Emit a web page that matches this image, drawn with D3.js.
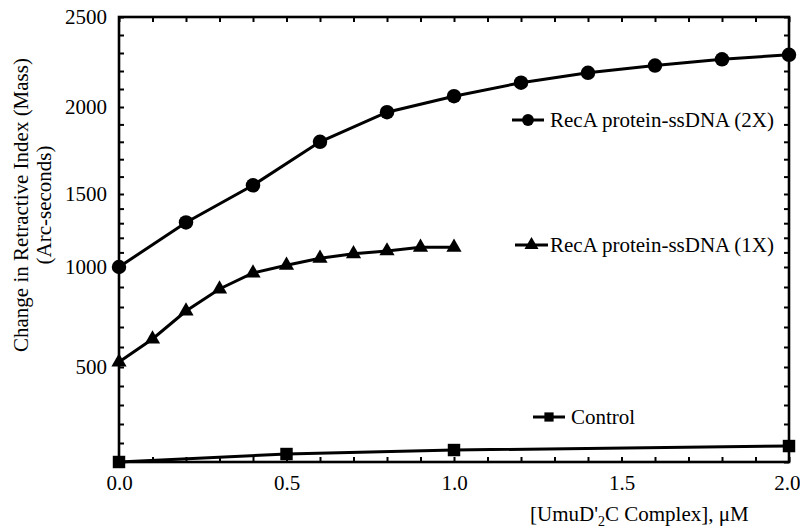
<!DOCTYPE html>
<html>
<head>
<meta charset="utf-8">
<script src="https://cdn.jsdelivr.net/npm/d3@7"></script>
<style>
	body { margin: 0; background: #fff; }
	text { font-family: 'Liberation Serif', 'Times New Roman', serif; fill: #000; }
</style>
</head>
<body>
<div id="chart"></div>
<script>
// concentrations, uM
var dose_2x = [0, 0.2, 0.4, 0.6, 0.8, 1.0, 1.2, 1.4, 1.6, 1.8, 2.0];
var dose_1x = [0, 0.1, 0.2, 0.3, 0.4, 0.5, 0.6, 0.7, 0.8, 0.9, 1.0];
var dose_ctrl = [0, 0.5, 1.0, 2.0];

// refractive index change, arc-seconds
var recA_2x = [1000, 1305, 1550, 1800, 1970, 2060, 2135, 2190, 2230, 2265, 2290];
var recA_1x = [525, 640, 780, 890, 970, 1012, 1060, 1090, 1110, 1135, 1135];
var control = [0, 42, 63, 84];

var series_names = ['RecA protein-ssDNA (2X)', 'RecA protein-ssDNA (1X)', 'Control'];
var x_ticks = [0, 0.5, 1.0, 1.5, 2.0];
var y_ticks = [500, 1000, 1500, 2000, 2500];
var x_minor = d3.range(0, 21).map(function (i) {return i / 10;});
var y_minor = d3.range(0, 26).map(function (i) {return i * 100;});

function Plotter(conf) {
	this.config = conf;
	this.init()
		.drawFrame()
		.draw()
		.drawLegend()
		.drawLabels();
}

Plotter.prototype = {
	init: function () {
		var conf = this.config;

		this.svg = d3.select('#chart').append('svg')
			.attr('width', conf.width).attr('height', conf.height);

		this.x_scale = d3.scaleLinear().domain([0, 2]).range([conf.left, conf.right]);
		// the printed y labels are not evenly spaced, so map piecewise through them
		this.y_scale = d3.scaleLinear()
			.domain([0, 500, 1000, 1500, 2000, 2500])
			.range([conf.bottom, 367, 267, 194, 107, conf.top]);

		this.symbols = {
			circle: d3.symbol().type(d3.symbolCircle).size(165),
			triangle: d3.symbol().type(d3.symbolTriangle).size(100),
			square: d3.symbol().type(d3.symbolSquare).size(155)
		};
		return this;
	},
	drawFrame: function () {
		var svg = this.svg,
			conf = this.config,
			x = this.x_scale,
			y = this.y_scale;

		// inward ticks on all four sides
		var sides = [
			[d3.axisRight(y).tickValues(y_minor), 'translate(' + conf.left + ',0)'],
			[d3.axisLeft(y).tickValues(y_minor), 'translate(' + conf.right + ',0)'],
			[d3.axisBottom(x).tickValues(x_minor), 'translate(0,' + conf.top + ')'],
			[d3.axisTop(x).tickValues(x_minor), 'translate(0,' + conf.bottom + ')']
		];
		sides.forEach(function (s) {
			var g = svg.append('g').attr('class', 'minor').attr('transform', s[1])
				.call(s[0].tickSize(5).tickFormat(''));
			g.select('.domain').remove();
			g.selectAll('line').attr('stroke', '#000').attr('stroke-width', 2);
		});

		svg.append('rect')
			.attr('x', conf.left).attr('y', conf.top)
			.attr('width', conf.right - conf.left).attr('height', conf.bottom - conf.top)
			.attr('fill', 'none').attr('stroke', '#000').attr('stroke-width', 2.6);

		// tick labels
		var gy = svg.append('g').attr('transform', 'translate(' + conf.left + ',0)')
			.call(d3.axisLeft(y).tickValues(y_ticks).tickSize(0).tickPadding(12).tickFormat(d3.format('d')));
		var gx = svg.append('g').attr('transform', 'translate(0,' + conf.bottom + ')')
			.call(d3.axisBottom(x).tickValues(x_ticks).tickSize(0).tickPadding(13).tickFormat(d3.format('.1f')));
		[gy, gx].forEach(function (g) {
			g.select('.domain').remove();
			g.attr('font-family', null).attr('font-size', null);
			g.selectAll('text').style('font-size', conf.font + 'px');
		});
		// last x label sits on the page edge
		gx.selectAll('.tick').filter(function (d) {return d == 2;}).select('text')
			.attr('text-anchor', 'end').attr('x', conf.width - conf.right);
		return this;
	},
	draw: function () {
		var self = this,
			svg = self.svg,
			x = self.x_scale,
			y = self.y_scale;

		var series = [
			{xs: dose_2x, ys: recA_2x, sym: 'circle'},
			{xs: dose_1x, ys: recA_1x, sym: 'triangle'},
			{xs: dose_ctrl, ys: control, sym: 'square'}
		];

		var line = d3.line()
			.x(function (d) {return x(d[0]);})
			.y(function (d) {return y(d[1]);});

		series.forEach(function (s) {
			var pts = d3.zip(s.xs, s.ys);
			svg.append('path').datum(pts)
				.attr('d', line)
				.attr('fill', 'none').attr('stroke', '#000').attr('stroke-width', 3);
			svg.append('g').selectAll('path').data(pts).enter().append('path')
				.attr('d', self.symbols[s.sym])
				.attr('transform', function (d) {return 'translate(' + x(d[0]) + ',' + y(d[1]) + ')';})
				.attr('fill', '#000');
		});
		return this;
	},
	drawLegend: function () {
		var svg = this.svg,
			conf = this.config,
			symbols = this.symbols;

		var items = [
			{x1: 512, x2: 544, cy: 120, sym: 'circle', tx: 550},
			{x1: 515, x2: 548, cy: 245, sym: 'triangle', tx: 550},
			{x1: 533, x2: 565, cy: 417, sym: 'square', tx: 571}
		];
		items.forEach(function (it, i) {
			var g = svg.append('g').attr('class', 'legend');
			g.append('line').attr('x1', it.x1).attr('x2', it.x2).attr('y1', it.cy).attr('y2', it.cy)
				.attr('stroke', '#000').attr('stroke-width', 3);
			g.append('path').attr('d', symbols[it.sym].size(i == 0 ? 110 : 85)())
				.attr('transform', 'translate(' + ((it.x1 + it.x2) / 2) + ',' + it.cy + ')');
			g.append('text').attr('x', it.tx).attr('y', it.cy).attr('dy', '0.33em')
				.style('font-size', conf.font + 'px').text(series_names[i]);
		});
		return this;
	},
	drawLabels: function () {
		var svg = this.svg,
			conf = this.config;

		var t = svg.append('text').attr('x', 530).attr('y', 521).style('font-size', conf.font + 'px');
		t.append('tspan').text("[UmuD'");
		t.append('tspan').attr('dy', 5).style('font-size', '14px').text('2');
		t.append('tspan').attr('dy', -5).text('C Complex], \u03bcM');

		var yl = svg.append('g').attr('transform', 'translate(0,205) rotate(-90)');
		yl.append('text').attr('y', 28).attr('text-anchor', 'middle')
			.style('font-size', conf.font + 'px').text('Change in Retractive Index (Mass)');
		yl.append('text').attr('y', 51).attr('text-anchor', 'middle')
			.style('font-size', conf.font + 'px').text('(Arc-seconds)');
		return this;
	}
};

new Plotter({width: 800, height: 528, left: 119, right: 789, top: 17, bottom: 462, font: 21});
</script>
</body>
</html>
